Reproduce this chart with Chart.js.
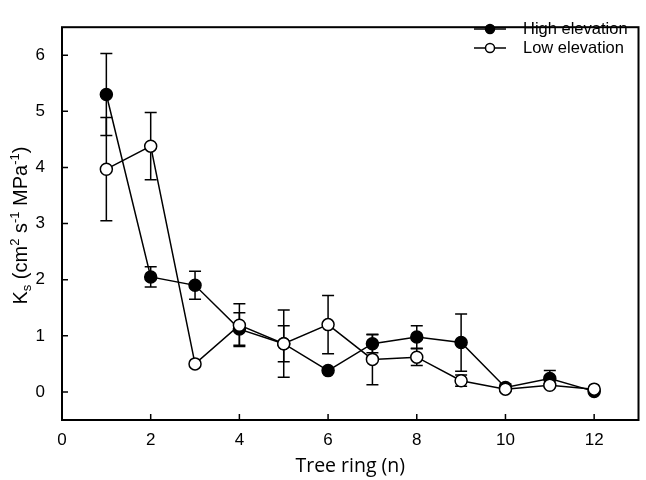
<!DOCTYPE html>
<html>
<head>
<meta charset="utf-8">
<script src="https://cdn.jsdelivr.net/npm/chart.js@4.4.1/dist/chart.umd.min.js"></script>
<style>
  html, body { margin: 0; padding: 0; background: #fff; }
</style>
</head>
<body>
<canvas id="chart" width="646" height="480"></canvas>
<script>
    // tree ring number (x) and mean Ks with error (y)
    const rings = [1, 2, 3, 4, 5, 6, 7, 8, 9, 10, 11, 12];
    const highMean = [5.30, 2.05, 1.90, 1.12, 0.86, 0.38, 0.86, 0.98, 0.88, 0.08, 0.24, 0.01];
    const highErr  = [0.73, 0.18, 0.25, 0.29, 0.32, 0.04, 0.16, 0.20, 0.51, 0.06, 0.14, 0.02];
    const lowMean  = [3.97, 4.38, 0.50, 1.19, 0.86, 1.20, 0.58, 0.62, 0.20, 0.05, 0.12, 0.05];
    const lowErr   = [0.92, 0.60, 0.03, 0.38, 0.60, 0.52, 0.45, 0.15, 0.10, 0.03, 0.03, 0.02];
    const xTicks = [0, 2, 4, 6, 8, 10, 12];
    const yTicks = [0, 1, 2, 3, 4, 5, 6];

    const ARIAL = '"Liberation Sans", Arial, sans-serif';

    function pts(means){ return rings.map((x,i) => ({ x: x, y: means[i] })); }

    // vertical whiskers with caps, drawn under the markers
    const errorBars = {
      id: 'errorBars',
      beforeDatasetsDraw(chart){
        const { ctx, scales: { x, y } } = chart;
        ctx.save();
        ctx.strokeStyle = '#000';
        ctx.lineWidth = 1.5;
        chart.data.datasets.forEach(ds => {
          ds.data.forEach((p, i) => {
            const e = ds.err[i];
            const px = x.getPixelForValue(p.x);
            const top = y.getPixelForValue(p.y + e);
            const bot = y.getPixelForValue(p.y - e);
            ctx.beginPath();
            ctx.moveTo(px, top); ctx.lineTo(px, bot);
            ctx.moveTo(px-6, top); ctx.lineTo(px+6, top);
            ctx.moveTo(px-6, bot); ctx.lineTo(px+6, bot);
            ctx.stroke();
          });
        });
        ctx.restore();
      }
    };

    // box frame, inward tick marks, y title with sub/superscripts, legend
    const decor = {
      id: 'decor',
      afterDraw(chart){
        const { ctx, chartArea: a, scales: { x, y } } = chart;
        ctx.save();
        ctx.strokeStyle = '#000';
        ctx.lineWidth = 2;
        ctx.strokeRect(a.left, a.top, a.right - a.left, a.bottom - a.top);
        ctx.lineWidth = 1.5;
        ctx.beginPath();
        yTicks.forEach(v => { const py = y.getPixelForValue(v); ctx.moveTo(a.left, py); ctx.lineTo(a.left + 6, py); });
        xTicks.forEach(v => { const px = x.getPixelForValue(v); ctx.moveTo(px, a.bottom); ctx.lineTo(px, a.bottom - 6); });
        ctx.stroke();

        // y axis title
        const big = 20, small = 13;
        const parts = [
          ['K', big, 0], ['s', small, 4], [' (cm', big, 0], ['2', small, -8],
          [' s', big, 0], ['-1', small, -8], [' MPa', big, 0], ['-1', small, -8], [')', big, 0]
        ];
        let total = 0;
        parts.forEach(p => { ctx.font = p[1] + 'px ' + ARIAL; total += ctx.measureText(p[0]).width; });
        ctx.translate(27, (a.top + a.bottom) / 2 + 2);
        ctx.rotate(-Math.PI / 2);
        ctx.fillStyle = '#000';
        ctx.textAlign = 'left';
        ctx.textBaseline = 'alphabetic';
        let cx = -total / 2;
        parts.forEach(p => {
          ctx.font = p[1] + 'px ' + ARIAL;
          ctx.fillText(p[0], cx, p[2]);
          cx += ctx.measureText(p[0]).width;
        });
        ctx.restore();

        // legend
        ctx.save();
        const rows = [['High elevation', '#000', 29], ['Low elevation', '#fff', 48]];
        ctx.font = '16.5px ' + ARIAL;
        ctx.textAlign = 'left';
        ctx.textBaseline = 'middle';
        rows.forEach(r => {
          ctx.strokeStyle = '#000'; ctx.lineWidth = 1.5;
          ctx.beginPath(); ctx.moveTo(474, r[2]); ctx.lineTo(506, r[2]); ctx.stroke();
          ctx.beginPath(); ctx.arc(490, r[2], 4.5, 0, Math.PI*2);
          ctx.fillStyle = r[1]; ctx.fill(); ctx.stroke();
          ctx.fillStyle = '#000';
          ctx.fillText(r[0], 523, r[2]);
        });
        ctx.restore();
      }
    };

    const ctx = document.getElementById('chart');
    new Chart(ctx, {
      type: 'line',
      data: {
        datasets: [
          { label: 'High elevation', data: pts(highMean), err: highErr, order: 1,
            borderColor: '#000', borderWidth: 1.5, pointRadius: 6, pointBorderWidth: 1.5,
            pointBackgroundColor: '#000', pointBorderColor: '#000' },
          { label: 'Low elevation', data: pts(lowMean), err: lowErr, order: 0,
            borderColor: '#000', borderWidth: 1.5, pointRadius: 6, pointBorderWidth: 1.5,
            pointBackgroundColor: '#fff', pointBorderColor: '#000' }
        ]
      },
      options: {
        responsive: false,
        animation: false,
        devicePixelRatio: 1,
        layout: { padding: { top: 2, right: 4, left: 0, bottom: 0 } },
        plugins: { legend: { display: false }, tooltip: { enabled: false } },
        scales: {
          x: {
            type: 'linear', min: 0, max: 13,
            grid: { display: false, drawTicks: false }, border: { display: false },
            afterBuildTicks: s => { s.ticks = xTicks.map(v => ({ value: v })); },
            afterFit: s => { s.height = 60; },
            ticks: { color: '#000', padding: 10, maxRotation: 0, font: { family: ARIAL, size: 17 } },
            title: { display: true, text: 'Tree ring (n)', color: '#000', padding: { top: 2, bottom: 2 },
                     font: { family: '"Open Sans", sans-serif', size: 19.5 } }
          },
          y: {
            min: -0.5, max: 6.5,
            grid: { display: false, drawTicks: false }, border: { display: false },
            afterBuildTicks: s => { s.ticks = yTicks.map(v => ({ value: v })); },
            afterFit: s => { s.width = 62; },
            ticks: { color: '#000', padding: 17, font: { family: ARIAL, size: 17 } }
          }
        }
      },
      plugins: [errorBars, decor]
    });
</script>
</body>
</html>
